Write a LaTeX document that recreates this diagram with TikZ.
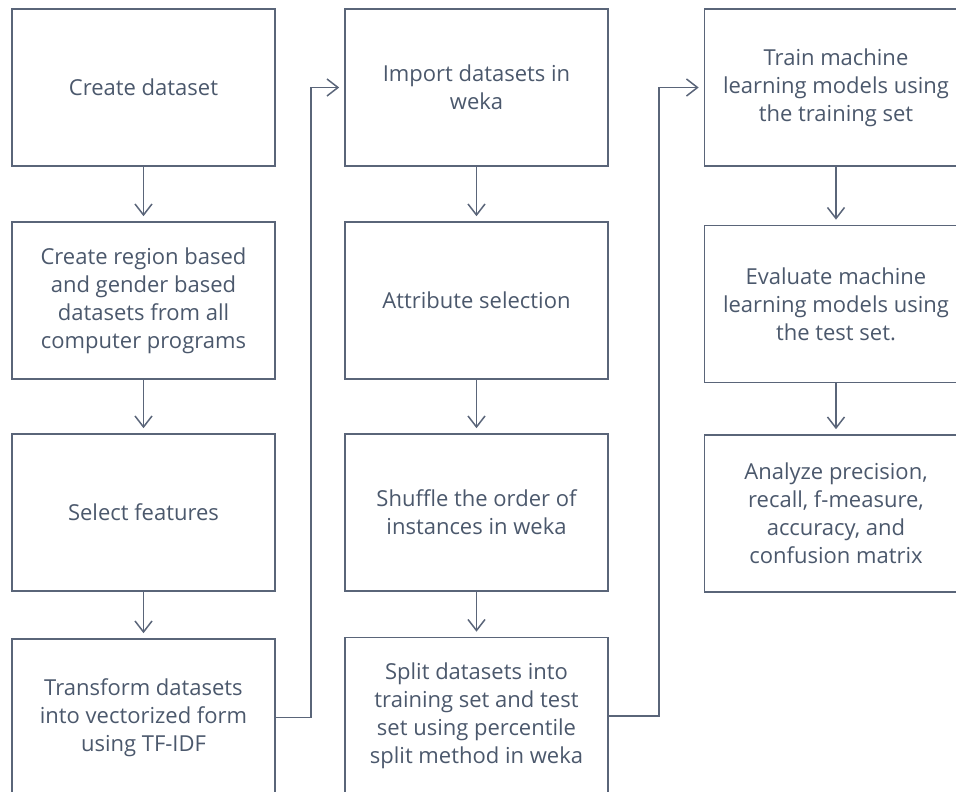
\documentclass[tikz,border=0pt]{standalone}
\usepackage{fontspec}
\setmainfont{Open Sans}
\usetikzlibrary{arrows.meta}
\definecolor{ink}{HTML}{5A6579}
\definecolor{txt}{HTML}{4B586C}
\tikzset{flow/.style={draw=ink, line width=1.5pt, -{Straight Barb[length=11pt,width=17pt,line width=1.5pt]}, shorten >=5pt},
  blk/.style={draw=ink, line width=1.6pt, minimum width=263pt, minimum height=157pt, text=txt, align=center, font=\fontsize{22}{28}\selectfont}}

\begin{document}
\begin{tikzpicture}[x=1pt,y=-1pt]
  \useasboundingbox (0,0) rectangle (956,792);
  % first column
  \node[blk] (cd) at (143.5,87.5) {Create dataset};
  \node[blk] (rg) at (143.5,300.5) {Create region based\\and gender based\\datasets from all\\computer programs};
  \node[blk] (sf) at (143.5,512.5) {Select features};
  \node[blk] (tf) at (143.5,717.5) {Transform datasets\\into vectorized form\\using TF-IDF};
  % second column
  \node[blk] (imp) at (476.5,87.5) {Import datasets in\\weka};
  \node[blk] (att) at (476.5,300.5) {Attribute selection};
  \node[blk] (shf) at (476.5,512.5) {Shuffle the order of\\instances in weka};
  \node[blk] (spl) at (476.5,716) {Split datasets into\\training set and test\\set using percentile\\split method in weka};
  % third column
  \node[blk] (tr) at (836,87.5) {Train machine\\learning models using\\the training set};
  \node[blk] (ev) at (836,304) {Evaluate machine\\learning models using\\the test set.};
  \node[blk] (an) at (836,513.5) {Analyze precision,\\recall, f-measure,\\accuracy, and\\confusion matrix};
  % arrows down each column
  \draw[flow] (cd) -- (rg);
  \draw[flow] (rg) -- (sf);
  \draw[flow] (sf) -- (tf);
  \draw[flow] (imp) -- (att);
  \draw[flow] (att) -- (shf);
  \draw[flow] (shf) -- (spl);
  \draw[flow] (tr) -- (ev);
  \draw[flow] (ev) -- (an);
  % jumps to the next column
  \draw[flow] (tf.east) -- ++(35,0) |- (imp.west);
  \draw[flow] (spl.east) -- ++(50,0) |- (tr.west);
\end{tikzpicture}
\end{document}
